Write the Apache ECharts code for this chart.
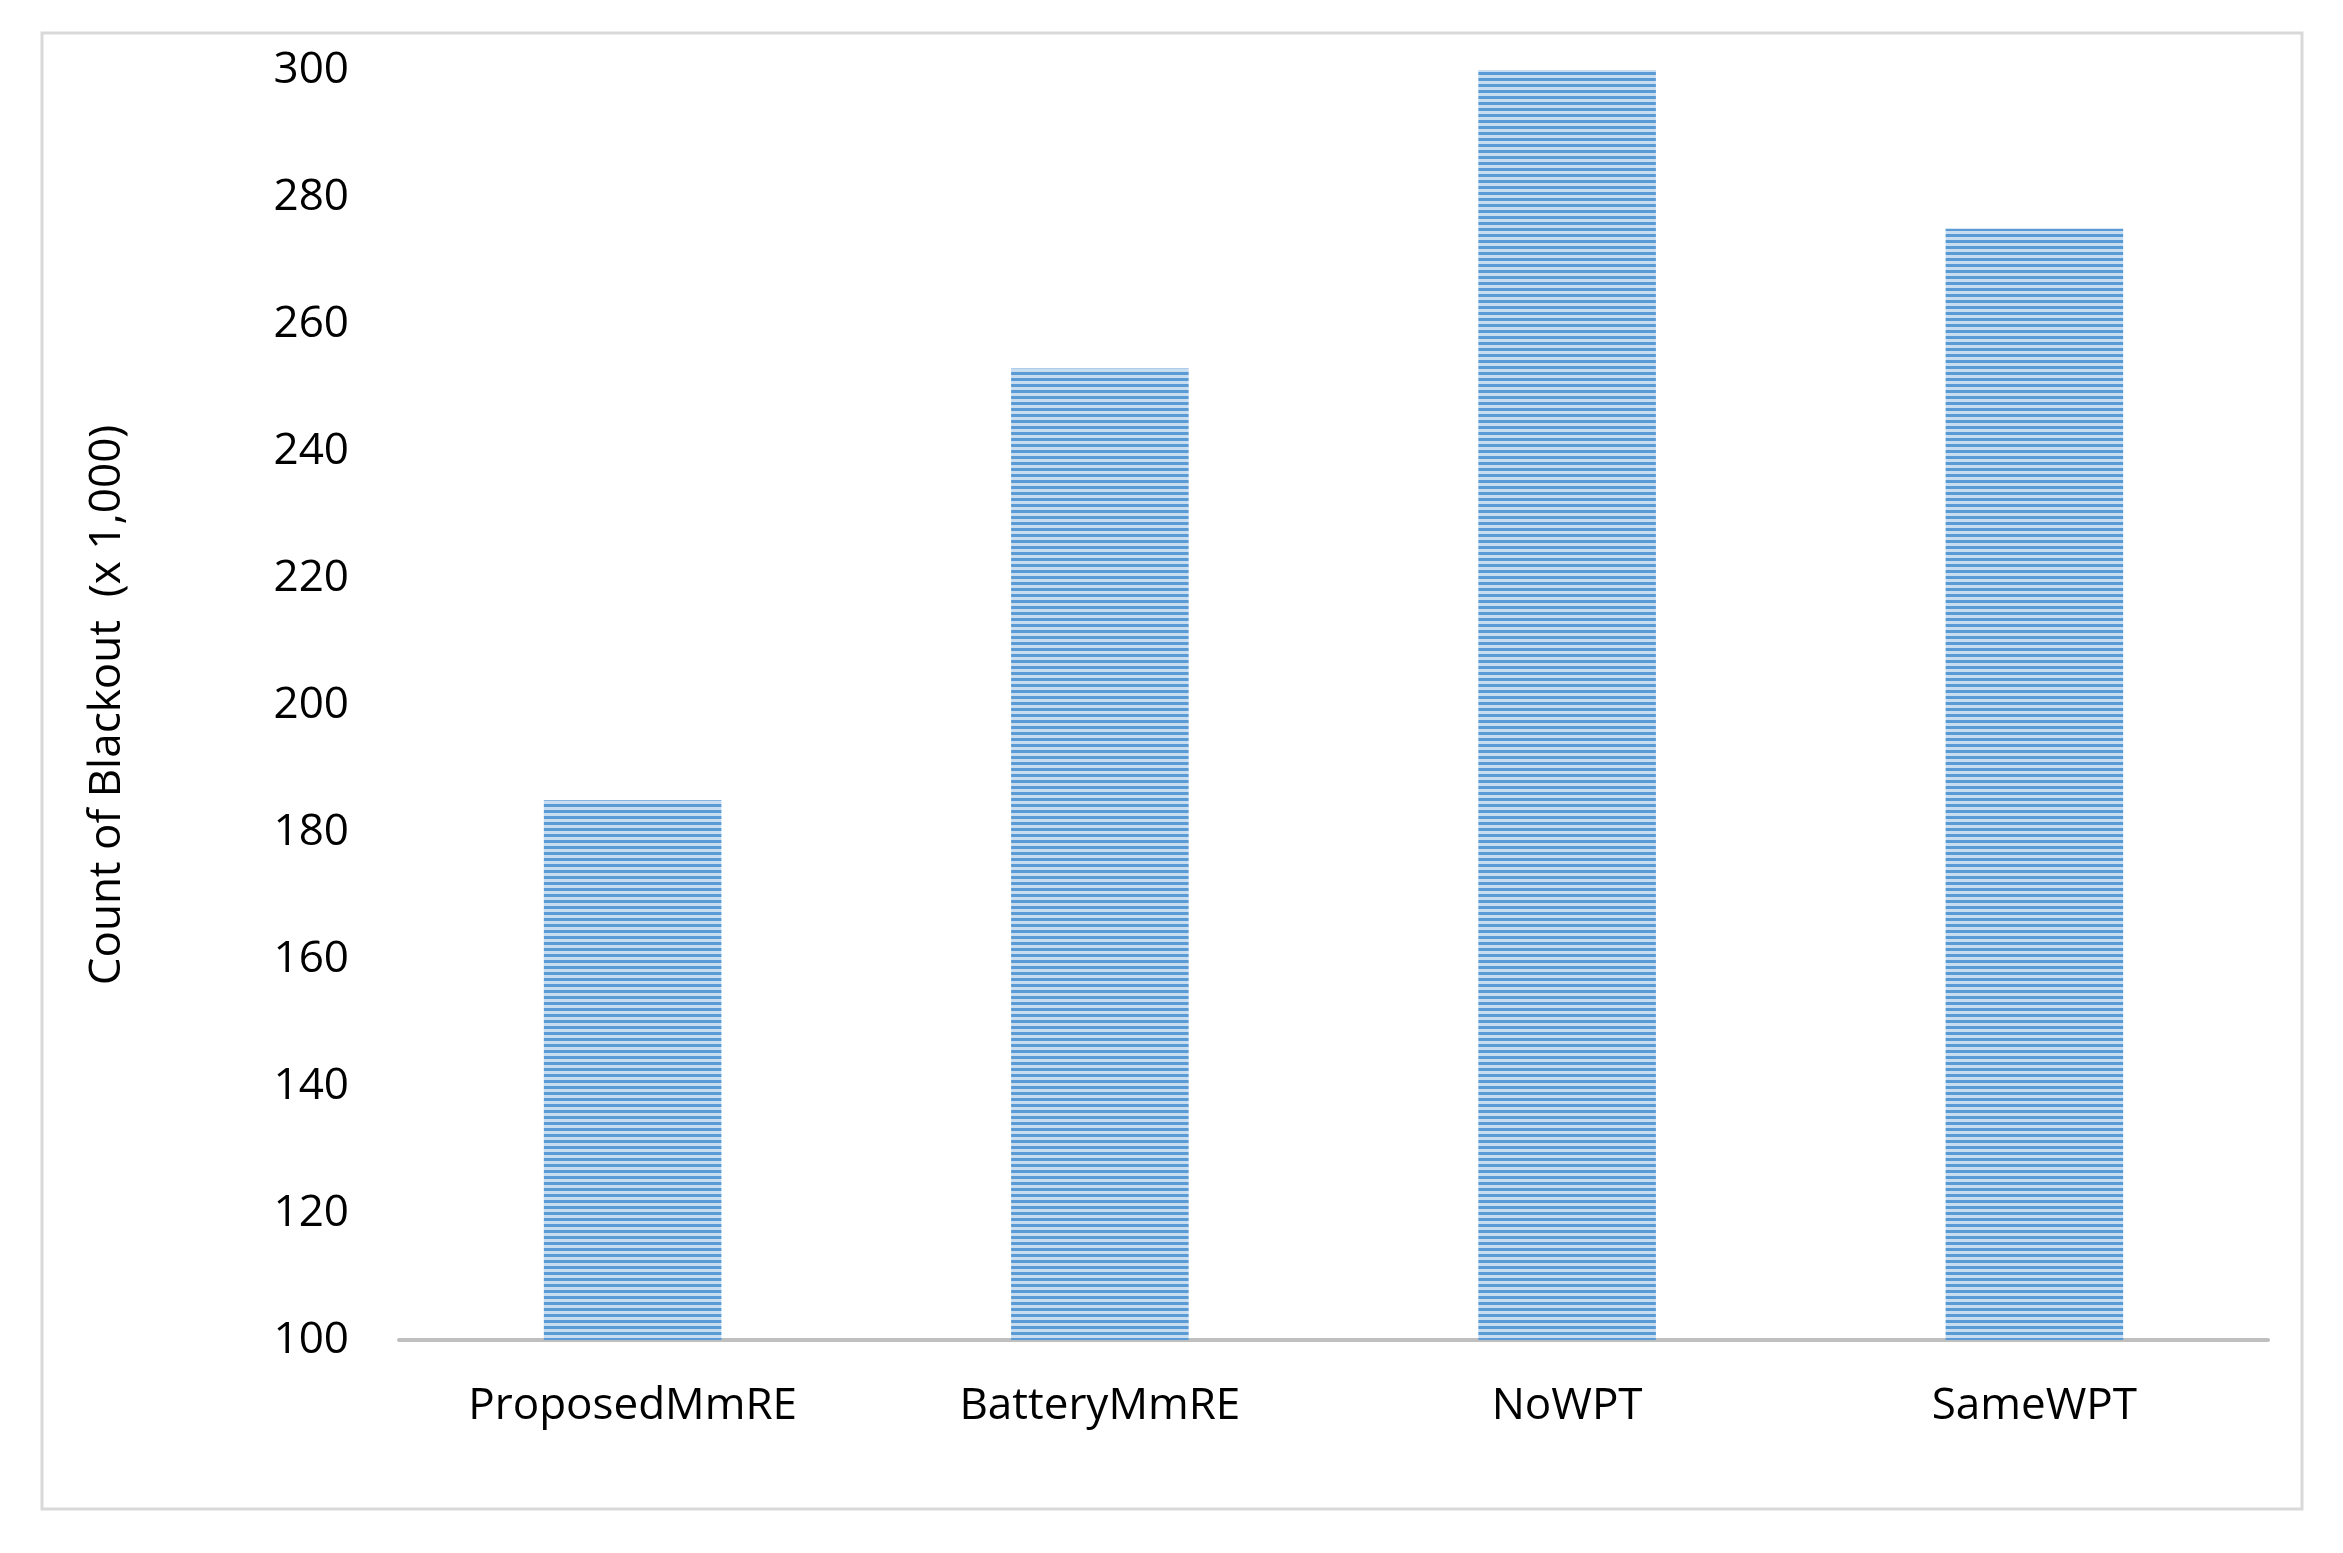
<!DOCTYPE html>
<html>
<head>
<meta charset="utf-8">
<script src="https://cdn.jsdelivr.net/npm/echarts@6/dist/echarts.min.js"></script>
<style>html,body{margin:0;padding:0;background:#fff}#echarts_container{width:2343px;height:1553px}</style>
</head>
<body>
<div id="echarts_container"></div>
<script>
var categories = ['ProposedMmRE', 'BatteryMmRE', 'NoWPT', 'SameWPT']
var blackouts = [185, 253, 300, 275]
var yTitle = 'Count of Blackout  (x 1,000)'

// horizontal stripe fill
var cv = document.createElement('canvas')
cv.width = 8; cv.height = 6
var ctx = cv.getContext('2d')
ctx.fillStyle = '#c9ddf1'; ctx.fillRect(0, 0, 8, 6)
ctx.fillStyle = '#5b9bd5'; ctx.fillRect(0, 0, 8, 3)

var chartDom = document.getElementById('echarts_container')
var myChart = echarts.init(chartDom)
var font = 'Open Sans'
var option = {
    backgroundColor: '#fff',
    graphic: [{
        type: 'rect',
        shape: { x: 42, y: 33, width: 2260, height: 1476 },
        style: { fill: 'none', stroke: '#d9d9d9', lineWidth: 3 }
    }],
    grid: { left: 399, right: 75, top: 70, bottom: 213 },
    xAxis: {
        type: 'category',
        data: categories,
        axisLine: { lineStyle: { color: '#bfbfbf', width: 4 } },
        axisTick: { show: false },
        axisLabel: { color: '#000', fontSize: 44, fontFamily: font, margin: 44 }
    },
    yAxis: {
        type: 'value',
        min: 100, max: 300, interval: 20,
        name: yTitle,
        nameLocation: 'middle',
        nameGap: 270,
        nameTextStyle: { color: '#000', fontSize: 44, fontFamily: font },
        axisLine: { show: false },
        axisTick: { show: false },
        splitLine: { show: false },
        axisLabel: { color: '#000', fontSize: 44, fontFamily: font, margin: 50 }
    },
    series: [{
        type: 'bar',
        data: blackouts,
        barWidth: '38%',
        itemStyle: { color: { image: cv, repeat: 'repeat' } }
    }]
}
option && myChart.setOption(option)
</script>
</body>
</html>
